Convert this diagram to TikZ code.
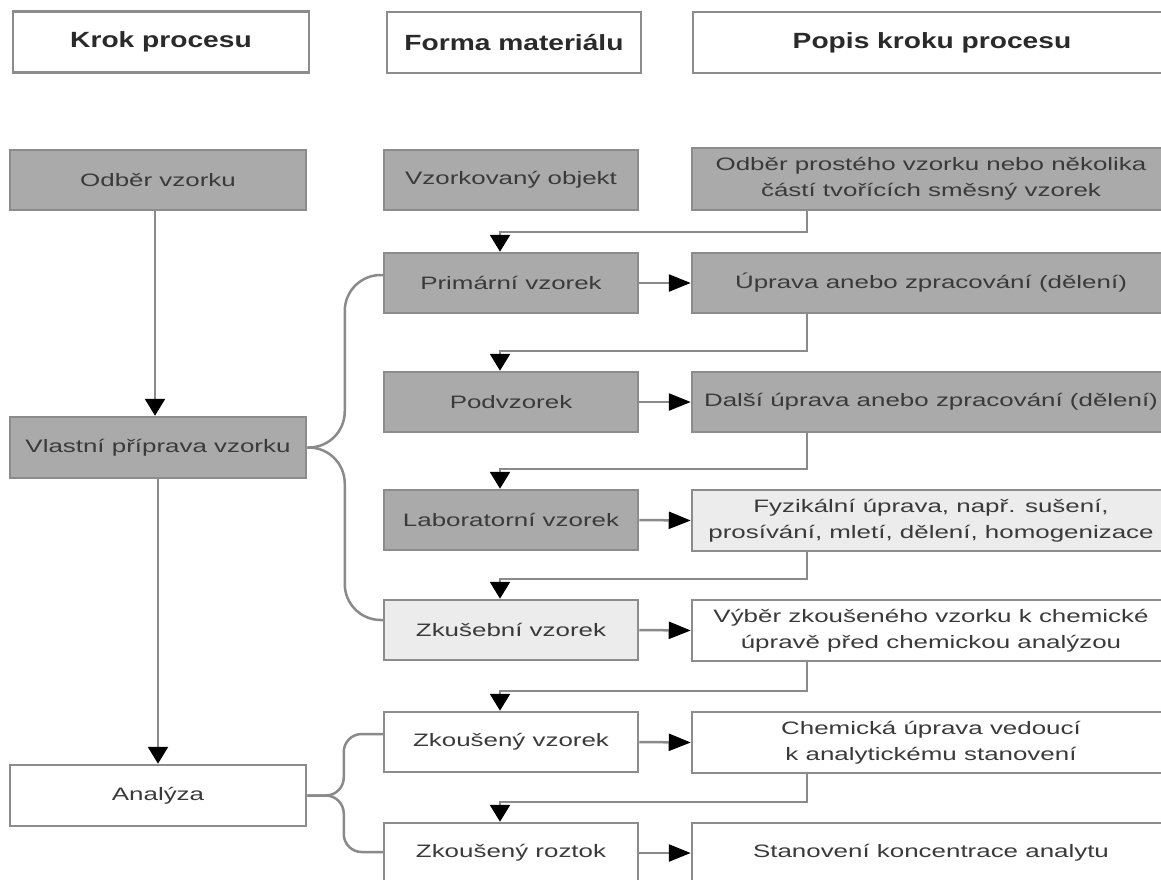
\documentclass[tikz,border=0pt]{standalone}
\usepackage{fontspec}
\setmainfont{Liberation Sans}[FakeStretch=1.44]
\newfontfamily\hdrfont{Liberation Sans}[FakeStretch=1.28]
\usetikzlibrary{arrows.meta,calc}
\definecolor{bord}{HTML}{8C8C8C}
\definecolor{lncol}{HTML}{8A8A8A}
\definecolor{dkgray}{HTML}{AAAAAA}
\definecolor{ltgray}{HTML}{ECECEC}
\definecolor{txt}{HTML}{3A3A3A}
\definecolor{hdtxt}{HTML}{2A2A2A}
\begin{document}
\begin{tikzpicture}[x=1pt,y=-1pt,
  box/.style={draw=bord, line width=2.5pt, inner sep=0pt, align=center, text=txt,
    font=\fontsize{18}{26}\selectfont, minimum height=60pt},
  dark/.style={box, fill=dkgray},
  light/.style={box, fill=ltgray},
  wbox/.style={box, fill=white},
  hdr/.style={box, fill=white, font=\hdrfont\bfseries\fontsize{22}{26}\selectfont, text=hdtxt, minimum height=61pt},
  colA/.style={minimum width=296pt},
  colB/.style={minimum width=254pt},
  colC/.style={minimum width=478pt},
  conn/.style={draw=lncol, line width=2.5pt},
  varr/.style={conn, -{Triangle[length=17pt,width=20pt,color=black]}},
  harr/.style={conn, -{Triangle[length=22pt,width=17pt,color=black]}}]
\clip (0,0) rectangle (1161,879);
\fill[white] (0,0) rectangle (1161,879);

% headers
\node[hdr,colA] (hK) at (161,42) {Krok procesu};
\node[hdr,colB] (hF) at (514,42.5) {Forma materiálu};
\node[hdr,colC] (hP) at (932,42.5) {Popis kroku procesu};

% left column
\node[dark,colA] (odber) at (158,180) {Odběr vzorku};
\node[dark,colA,minimum height=61pt] (vlast) at (158,447.5) {Vlastní příprava vzorku};
\node[wbox,colA,minimum height=61pt] (analyza) at (158,795.5) {Analýza};

% middle column
\node[dark,colB] (vobj) at (511,180) {Vzorkovaný objekt};
\node[dark,colB] (prim) at (511,283) {Primární vzorek};
\node[dark,colB] (podv) at (511,402) {Podvzorek};
\node[dark,colB] (lab) at (511,520) {Laboratorní vzorek};
\node[light,colB] (zkus) at (511,630) {Zkušební vzorek};
\node[wbox,colB] (zvz) at (511,742) {Zkoušený vzorek};
\node[wbox,colB] (zroz) at (511,853) {Zkoušený roztok};

% right column
\node[dark,colC,minimum height=62pt] (podb) at (931,179) {Odběr prostého vzorku nebo několika\\částí tvořících směsný vzorek};
\node[dark,colC] (upr) at (931,283) {Úprava anebo zpracování (dělení)};
\node[dark,colC] (dalsi) at (931,402) {Další úprava anebo zpracování (dělení)};
\node[light,colC,minimum height=61pt] (fyz) at (931,520.5) {Fyzikální úprava, např. sušení,\\prosívání, mletí, dělení, homogenizace};
\node[wbox,colC,minimum height=61pt] (vyber) at (931,630.5) {Výběr zkoušeného vzorku k chemické\\úpravě před chemickou analýzou};
\node[wbox,colC,minimum height=61pt] (chem) at (931,742.5) {Chemická úprava vedoucí\\k analytickému stanovení};
\node[wbox,colC] (stan) at (931,853) {Stanovení koncentrace analytu};

% left vertical arrows
\draw[varr] ([xshift=-3pt]odber.south) -- ([xshift=-3pt]vlast.north);
\draw[varr] (vlast.south) -- (analyza.north);

% horizontal arrows
\draw[harr] (prim.east) -- (upr.west);
\draw[harr] (podv.east) -- (dalsi.west);
\draw[harr] (lab.east) -- (fyz.west);
\draw[harr] (zkus.east) -- (vyber.west);
\draw[harr] (zvz.east) -- (chem.west);
\draw[harr] (zroz.east) -- (stan.west);

% step connectors
\draw[varr] ([xshift=116pt]podb.south west) |- ($(prim.north)+(-11,-20)$) -- ([xshift=-11pt]prim.north);
\draw[varr] ([xshift=116pt]upr.south west) |- ($(podv.north)+(-11,-20)$) -- ([xshift=-11pt]podv.north);
\draw[varr] ([xshift=116pt]dalsi.south west) |- ($(lab.north)+(-11,-20)$) -- ([xshift=-11pt]lab.north);
\draw[varr] ([xshift=116pt]fyz.south west) |- ($(zkus.north)+(-11,-20)$) -- ([xshift=-11pt]zkus.north);
\draw[varr] ([xshift=116pt]vyber.south west) |- ($(zvz.north)+(-11,-20)$) -- ([xshift=-11pt]zvz.north);
\draw[varr] ([xshift=116pt]chem.south west) |- ($(zroz.north)+(-11,-20)$) -- ([xshift=-11pt]zroz.north);

% braces
\draw[conn, rounded corners=36pt] (vlast.east) -| ($(prim.west)+(-38,-8)$) -- ([yshift=8pt]prim.west);
\draw[conn, rounded corners=36pt] (vlast.east) -| ($(zkus.west)+(-38,-10)$) -- ([yshift=10pt]zkus.west);
\draw[conn, rounded corners=18pt] (analyza.east) -| ($(zvz.west)+(-39,-8)$) -- ([yshift=8pt]zvz.west);
\draw[conn, rounded corners=18pt] (analyza.east) -| ($(zroz.west)+(-39,-1)$) -- ([yshift=1pt]zroz.west);
\end{tikzpicture}
\end{document}
